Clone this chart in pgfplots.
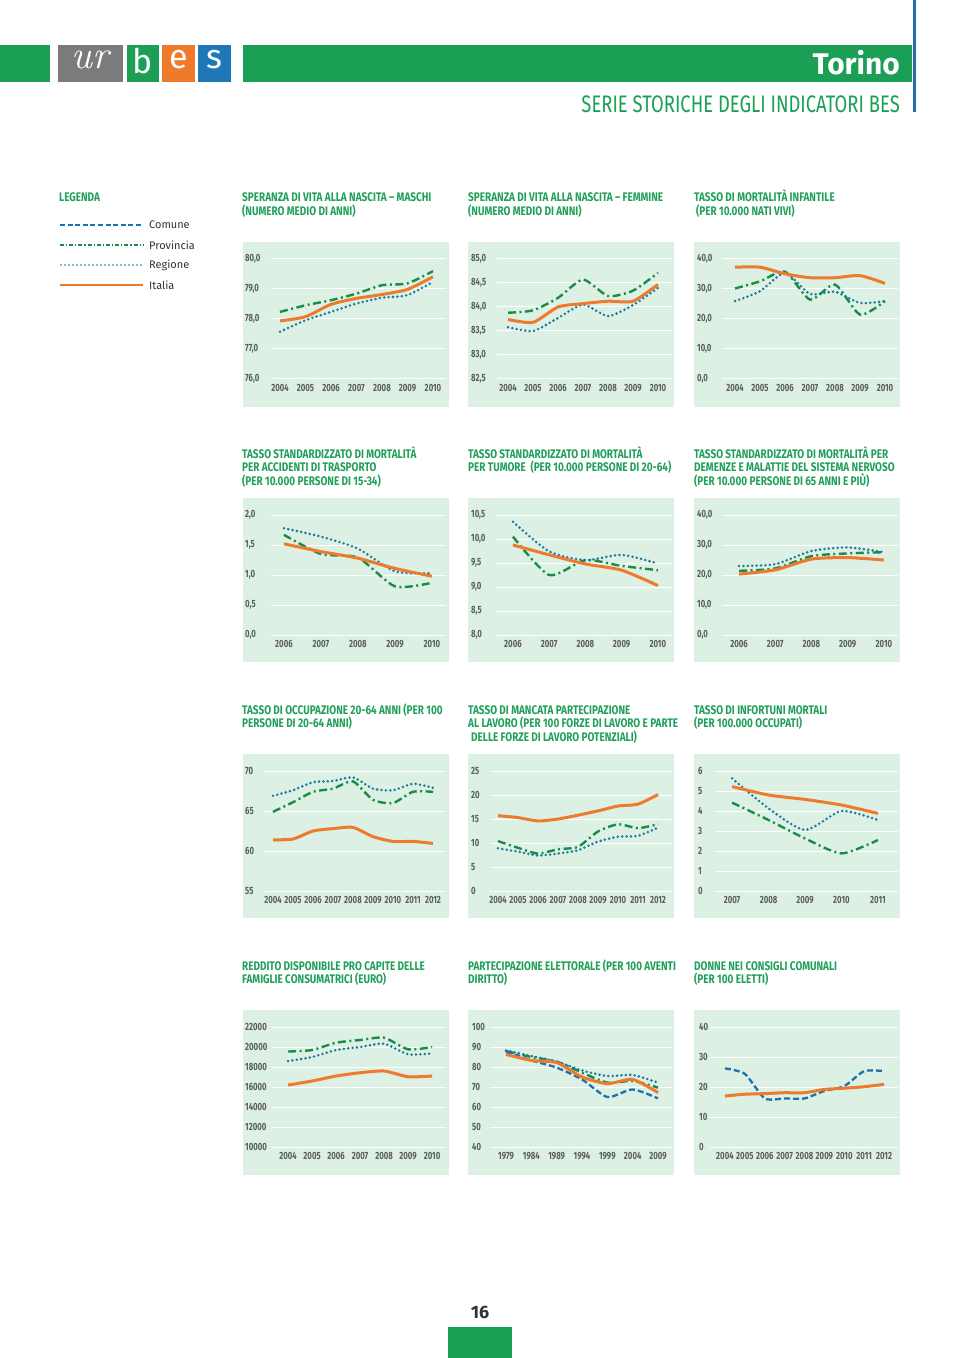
\documentclass[border=0pt]{standalone}
\usepackage{fontspec}
\newfontfamily\firafont{Fira Sans}
\newfontfamily\condfont[FakeStretch=0.74]{Fira Sans}
\newfontfamily\titlefont[FakeStretch=0.8]{Fira Sans}
\newfontfamily\headfont[FakeStretch=0.77]{Fira Sans}
\usepackage{pgfplots}
\pgfplotsset{compat=1.18}

\definecolor{hdrgreen}{HTML}{1A9F55}
\definecolor{cPanel}{HTML}{DCF0E3}
\definecolor{cTitle}{HTML}{21A059}
\definecolor{cOr}{HTML}{EE7A2E}
\definecolor{cPr}{HTML}{1B8C48}
\definecolor{cRe}{HTML}{1A78A2}
\definecolor{cCo}{HTML}{1F70AE}
\definecolor{cTick}{HTML}{5C5C5C}
\definecolor{logogrey}{HTML}{7B7B7B}
\definecolor{logoor}{HTML}{EF7A2A}
\definecolor{logoblue}{HTML}{1E78B8}
\definecolor{vline}{HTML}{1E6FA8}

\tikzset{
 italia/.style={color=cOr, line width=3bp, smooth, tension=0.4},
 provincia/.style={color=cPr, line width=2.4bp, dash pattern=on 8bp off 3.5bp on 2bp off 3.5bp, smooth, tension=0.4},
 regione/.style={color=cRe, line width=2.8bp, line cap=round, dash pattern=on 0bp off 4.4bp, smooth, tension=0.4},
 comune/.style={color=cCo, line width=2.3bp, dash pattern=on 6bp off 3bp, smooth, tension=0.4},
}

\pgfplotsset{
 bes/.style={
   scale only axis, height=120bp, anchor=north west,
   axis line style={draw=none},
   major tick length=0pt,
   ymajorgrids, grid style={white, line width=1bp},
   tick label style={font=\condfont\bfseries\fontsize{10.5}{11}\selectfont, text=cTick},
   yticklabel style={anchor=west, inner sep=0pt},
   xticklabel style={anchor=north, inner sep=0pt, yshift=-5.5bp},
   /pgf/number format/assume math mode=true,
   /pgf/number format/1000 sep={},
   clip=false, no markers,
 },
 ylx/.style={yticklabel style={xshift=#1bp}},
 ycomma/.style={yticklabel style={/pgf/number format/fixed, /pgf/number format/fixed zerofill, /pgf/number format/precision=1, /pgf/number format/use comma}},
}

\newcommand{\ttl}[3]{\node[anchor=base west, inner sep=0pt, text=cTitle, font=\titlefont\bfseries\fontsize{12.5}{13}\selectfont] at (#1,#2) {#3};}

\begin{document}
\begin{tikzpicture}
\begin{scope}[x=1bp,y=-1bp]
% page
\fill[white] (0,0) rectangle (960,1358);
% header
\fill[hdrgreen] (0,45) rectangle (50,82);
\fill[logogrey] (58,45) rectangle (123,82);
\fill[hdrgreen] (127,45) rectangle (159,82);
\fill[logoor] (162,45) rectangle (195,82);
\fill[logoblue] (198,45) rectangle (231,82);
\node[text=white, font=\rmfamily\itshape\fontsize{40}{40}\selectfont] at (90,60) {ur};
\node[text=white, font=\firafont\fontsize{34}{34}\selectfont] at (143,61) {b};
\node[text=white, font=\firafont\fontsize{34}{34}\selectfont] at (178.5,60) {e};
\node[text=white, font=\firafont\fontsize{34}{34}\selectfont] at (214.5,60) {s};
\fill[hdrgreen] (243,45) rectangle (912,82);
\fill[vline] (913,0) rectangle (916,112);
\node[anchor=base east, inner sep=0pt, text=white, font=\firafont\bfseries\fontsize{30}{30}\selectfont] at (900,75) {Torino};
\node[anchor=base east, inner sep=0pt, text=hdrgreen, font=\headfont\fontsize{24}{24}\selectfont] at (900,113) {SERIE STORICHE DEGLI INDICATORI BES};
% legend
\node[anchor=base west, inner sep=0pt, text=cTitle, font=\titlefont\bfseries\fontsize{12.5}{13}\selectfont] at (59,202) {LEGENDA};
\draw[cCo, line width=1.8bp, dash pattern=on 5bp off 2.6bp] (60,225) -- (143,225);
\draw[cPr, line width=1.6bp, dash pattern=on 4bp off 2bp on 1.2bp off 2bp] (60,245) -- (143,245);
\draw[cRe, line width=1.9bp, line cap=round, dash pattern=on 0bp off 4bp] (61,265) -- (143,265);
\draw[cOr, line width=2bp] (60,285) -- (143,285);
\foreach \yy/\lab in {225/Comune,245/Provincia,265/Regione,285/Italia}
  \node[anchor=west, inner sep=0pt, text=black!80, font=\firafont\fontsize{11}{11}\selectfont] at (149,\yy) {\lab};
% panels
\foreach \xa/\xb in {243/449,468/674,694/900}{
  \fill[cPanel] (\xa,242) rectangle (\xb,407);
  \fill[cPanel] (\xa,498) rectangle (\xb,662);
  \fill[cPanel] (\xa,754) rectangle (\xb,918);
  \fill[cPanel] (\xa,1010) rectangle (\xb,1175);
}
% titles row 1
\ttl{242}{202}{SPERANZA DI VITA ALLA NASCITA – MASCHI}
\ttl{242}{215.5}{(NUMERO MEDIO DI ANNI)}
\ttl{468}{202}{SPERANZA DI VITA ALLA NASCITA – FEMMINE}
\ttl{468}{215.5}{(NUMERO MEDIO DI ANNI)}
\ttl{694}{202}{TASSO DI MORTALITÀ INFANTILE}
\ttl{696}{215.5}{(PER 10.000 NATI VIVI)}
% row 2
\ttl{242}{458}{TASSO STANDARDIZZATO DI MORTALITÀ}
\ttl{242}{471.5}{PER ACCIDENTI DI TRASPORTO}
\ttl{242}{485}{(PER 10.000 PERSONE DI 15-34)}
\ttl{468}{458}{TASSO STANDARDIZZATO DI MORTALITÀ}
\ttl{468}{471.5}{PER TUMORE\ \ (PER 10.000 PERSONE DI 20-64)}
\ttl{694}{458}{TASSO STANDARDIZZATO DI MORTALITÀ PER}
\ttl{694}{471.5}{DEMENZE E MALATTIE DEL SISTEMA NERVOSO}
\ttl{694}{485}{(PER 10.000 PERSONE DI 65 ANNI E PIÙ)}
% row 3
\ttl{242}{714}{TASSO DI OCCUPAZIONE 20-64 ANNI (PER 100}
\ttl{242}{727.5}{PERSONE DI 20-64 ANNI)}
\ttl{468}{714}{TASSO DI MANCATA PARTECIPAZIONE}
\ttl{468}{727.5}{AL LAVORO (PER 100 FORZE DI LAVORO E PARTE}
\ttl{471}{741}{DELLE FORZE DI LAVORO POTENZIALI)}
\ttl{694}{714}{TASSO DI INFORTUNI MORTALI}
\ttl{694}{727.5}{(PER 100.000 OCCUPATI)}
% row 4
\ttl{242}{970}{REDDITO DISPONIBILE PRO CAPITE DELLE}
\ttl{242}{983.5}{FAMIGLIE CONSUMATRICI (EURO)}
\ttl{468}{970}{PARTECIPAZIONE ELETTORALE (PER 100 AVENTI}
\ttl{468}{983.5}{DIRITTO)}
\ttl{694}{970}{DONNE NEI CONSIGLI COMUNALI}
\ttl{694}{983.5}{(PER 100 ELETTI)}
% footer
\node[text=black!80, font=\firafont\bfseries\fontsize{18}{18}\selectfont] at (480,1312) {16};
\fill[hdrgreen] (448,1327) rectangle (512,1358);
\end{scope}

% ---------- C1
\begin{axis}[bes, at={(271bp,-258.5bp)}, width=175bp, xmin=2003.647, xmax=2010.51,
  ymin=76, ymax=80, ytick={76,77,78,79,80}, xtick={2004,...,2010}, ylx=-26, ycomma]
\addplot[provincia] coordinates {(2004,78.22)(2005,78.44)(2006,78.61)(2007,78.83)(2008,79.11)(2009,79.17)(2010,79.58)};
\addplot[regione] coordinates {(2004,77.56)(2005,77.94)(2006,78.22)(2007,78.50)(2008,78.69)(2009,78.78)(2010,79.22)};
\addplot[italia] coordinates {(2004,77.92)(2005,78.06)(2006,78.47)(2007,78.67)(2008,78.80)(2009,78.97)(2010,79.39)};
\end{axis}
% ---------- C2
\begin{axis}[bes, at={(497bp,-258.5bp)}, width=175bp, xmin=2003.56, xmax=2010.56,
  ymin=82.5, ymax=85, ytick={82.5,83,83.5,84,84.5,85}, xtick={2004,...,2010}, ylx=-26, ycomma]
\addplot[provincia] coordinates {(2004,83.87)(2005,83.92)(2006,84.18)(2007,84.56)(2008,84.22)(2009,84.33)(2010,84.70)};
\addplot[regione] coordinates {(2004,83.57)(2005,83.49)(2006,83.76)(2007,84.04)(2008,83.80)(2009,84.03)(2010,84.39)};
\addplot[italia] coordinates {(2004,83.73)(2005,83.67)(2006,83.99)(2007,84.06)(2008,84.11)(2009,84.11)(2010,84.46)};
\end{axis}
% ---------- C3
\begin{axis}[bes, at={(722bp,-258.5bp)}, width=176bp, xmin=2003.48, xmax=2010.52,
  ymin=0, ymax=40, ytick={0,10,20,30,40}, xtick={2004,...,2010}, ylx=-25, ycomma]
\addplot[provincia] coordinates {(2004,30.0)(2005,32.4)(2006,35.6)(2007,26.3)(2008,31.3)(2009,21.3)(2010,25.8)};
\addplot[regione] coordinates {(2004,25.8)(2005,29.1)(2006,35.2)(2007,28.2)(2008,28.9)(2009,25.2)(2010,25.8)};
\addplot[italia] coordinates {(2004,37.1)(2005,37.1)(2006,34.9)(2007,33.6)(2008,33.6)(2009,34.3)(2010,31.7)};
\end{axis}
% ---------- C4
\begin{axis}[bes, at={(271bp,-515bp)}, width=175bp, xmin=2005.65, xmax=2010.38,
  ymin=0, ymax=2, ytick={0,0.5,1,1.5,2}, xtick={2006,...,2010}, ylx=-26, ycomma]
\addplot[provincia] coordinates {(2006,1.67)(2007,1.35)(2008,1.29)(2009,0.81)(2010,0.87)};
\addplot[regione] coordinates {(2006,1.78)(2007,1.64)(2008,1.44)(2009,1.06)(2010,1.03)};
\addplot[italia] coordinates {(2006,1.52)(2007,1.39)(2008,1.28)(2009,1.11)(2010,0.98)};
\end{axis}
% ---------- C5
\begin{axis}[bes, at={(497bp,-515bp)}, width=175bp, xmin=2005.56, xmax=2010.39,
  ymin=8, ymax=10.5, ytick={8,8.5,9,9.5,10,10.5}, xtick={2006,...,2010}, ylx=-26, ycomma]
\addplot[provincia] coordinates {(2006,10.05)(2007,9.25)(2008,9.56)(2009,9.44)(2010,9.35)};
\addplot[regione] coordinates {(2006,10.36)(2007,9.74)(2008,9.56)(2009,9.67)(2010,9.49)};
\addplot[italia] coordinates {(2006,9.875)(2007,9.67)(2008,9.48)(2009,9.35)(2010,9.03)};
\end{axis}
% ---------- C6
\begin{axis}[bes, at={(722bp,-515bp)}, width=176bp, xmin=2005.53, xmax=2010.39,
  ymin=0, ymax=40, ytick={0,10,20,30,40}, xtick={2006,...,2010}, ylx=-25, ycomma]
\addplot[provincia] coordinates {(2006,21.4)(2007,22.2)(2008,26.3)(2009,27.2)(2010,27.6)};
\addplot[regione] coordinates {(2006,23.0)(2007,23.6)(2008,28.0)(2009,29.2)(2010,27.6)};
\addplot[italia] coordinates {(2006,20.3)(2007,21.7)(2008,25.3)(2009,25.8)(2010,25.0)};
\end{axis}
% ---------- C7
\begin{axis}[bes, at={(265bp,-771bp)}, width=181bp, xmin=2003.6, xmax=2012.65,
  ymin=55, ymax=70, ytick={55,60,65,70}, xtick={2004,...,2012}, ylx=-20]
\addplot[provincia] coordinates {(2004,64.9)(2005,66.1)(2006,67.4)(2007,67.8)(2008,68.7)(2009,66.4)(2010,66.0)(2011,67.4)(2012,67.4)};
\addplot[regione] coordinates {(2004,66.9)(2005,67.6)(2006,68.6)(2007,68.75)(2008,69.2)(2009,67.8)(2010,67.6)(2011,68.4)(2012,67.9)};
\addplot[italia] coordinates {(2004,61.4)(2005,61.5)(2006,62.5)(2007,62.8)(2008,62.95)(2009,61.8)(2010,61.2)(2011,61.2)(2012,60.95)};
\end{axis}
% ---------- C8
\begin{axis}[bes, at={(490bp,-771bp)}, width=182bp, xmin=2003.6, xmax=2012.7,
  ymin=0, ymax=25, ytick={0,5,10,15,20,25}, xtick={2004,...,2012}, ylx=-19]
\addplot[provincia] coordinates {(2004,10.4)(2005,9.0)(2006,7.8)(2007,8.7)(2008,9.2)(2009,12.4)(2010,13.9)(2011,13.1)(2012,13.9)};
\addplot[regione] coordinates {(2004,8.9)(2005,8.2)(2006,7.4)(2007,7.8)(2008,8.5)(2009,10.3)(2010,11.3)(2011,11.5)(2012,13.2)};
\addplot[italia] coordinates {(2004,15.7)(2005,15.3)(2006,14.6)(2007,15.0)(2008,15.8)(2009,16.7)(2010,17.7)(2011,18.1)(2012,20.1)};
\end{axis}
% ---------- C9
\begin{axis}[bes, at={(716bp,-771bp)}, width=182bp, xmin=2006.56, xmax=2011.55,
  ymin=0, ymax=6, ytick={0,1,2,3,4,5,6}, xtick={2007,...,2011}, ylx=-18]
\addplot[provincia] coordinates {(2007,4.42)(2008,3.55)(2009,2.63)(2010,1.88)(2011,2.55)};
\addplot[regione] coordinates {(2007,5.63)(2008,4.13)(2009,3.05)(2010,4.00)(2011,3.55)};
\addplot[italia] coordinates {(2007,5.22)(2008,4.80)(2009,4.58)(2010,4.30)(2011,3.88)};
\end{axis}
% ---------- C10
\begin{axis}[bes, at={(272bp,-1027bp)}, width=174bp, xmin=2003.33, xmax=2010.58,
  ymin=10000, ymax=22000, ytick={10000,12000,...,22000}, xtick={2004,...,2010}, ylx=-27,
  scaled y ticks=false]
\addplot[provincia] coordinates {(2004,19550)(2005,19700)(2006,20430)(2007,20700)(2008,20930)(2009,19770)(2010,20000)};
\addplot[regione] coordinates {(2004,18600)(2005,19000)(2006,19700)(2007,20000)(2008,20330)(2009,19270)(2010,19370)};
\addplot[italia] coordinates {(2004,16200)(2005,16600)(2006,17100)(2007,17430)(2008,17600)(2009,17030)(2010,17100)};
\end{axis}
% ---------- C11
\begin{axis}[bes, at={(490bp,-1027bp)}, width=182bp, xmin=1975.84, xmax=2011.76,
  ymin=40, ymax=100, ytick={40,50,...,100}, xtick={1979,1984,...,2009}, ylx=-18]
\addplot[provincia] coordinates {(1979,88.0)(1984,85.0)(1989,82.7)(1994,77.2)(1999,72.2)(2004,73.0)(2009,69.7)};
\addplot[regione] coordinates {(1979,88.3)(1984,85.5)(1989,82.7)(1994,78.3)(1999,75.5)(2004,76.0)(2009,72.2)};
\addplot[comune] coordinates {(1979,87.7)(1984,83.3)(1989,79.7)(1994,73.8)(1999,65.0)(2004,68.8)(2009,64.3)};
\addplot[italia] coordinates {(1979,86.3)(1984,83.3)(1989,82.2)(1994,75.0)(1999,71.7)(2004,73.8)(2009,67.2)};
\end{axis}
% ---------- C12
\begin{axis}[bes, at={(710bp,-1027bp)}, width=188bp, xmin=2003.25, xmax=2012.70,
  ymin=0, ymax=40, ytick={0,10,20,30,40}, xtick={2004,...,2012}, ylx=-11]
\addplot[comune] coordinates {(2004,26.2)(2005,24.4)(2006,16.2)(2007,16.2)(2008,16.2)(2009,18.7)(2010,20.3)(2011,25.3)(2012,25.3)};
\addplot[italia] coordinates {(2004,17.0)(2005,17.6)(2006,17.8)(2007,18.1)(2008,18.1)(2009,19.2)(2010,19.6)(2011,20.1)(2012,20.9)};
\end{axis}
\end{tikzpicture}
\end{document}
